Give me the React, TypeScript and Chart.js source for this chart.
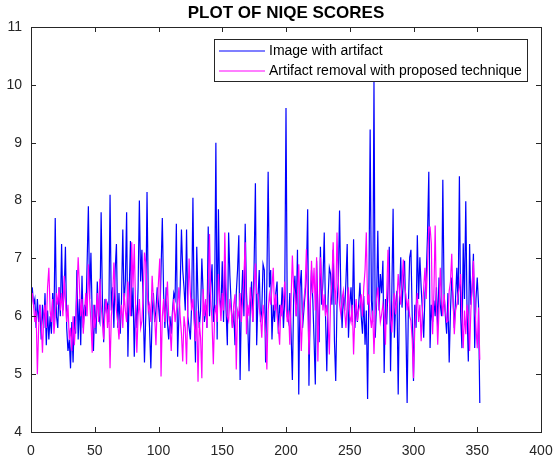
import React, { useEffect, useRef } from "react";
import { Chart, registerables } from "chart.js";

Chart.register(...registerables);

const TITLE = "PLOT OF NIQE SCORES";
const SERIES_LABELS = ["Image with artifact", "Artifact removal with proposed technique"];
const X_TICKS = [0, 50, 100, 150, 200, 250, 300, 350, 400];
const Y_TICKS = [4, 5, 6, 7, 8, 9, 10, 11];

const withArtifact = [
  6.5, 6.2, 6.3, 5.8, 6.3, 5.9, 6.2, 5.6, 6.2, 5.8,
  6.4, 5.5, 6.1, 5.6, 6.0, 5.7, 6.4, 5.9, 7.7, 6.0,
  5.8, 6.5, 6.0, 7.25, 6.1, 6.4, 7.2, 5.8, 5.4, 5.6,
  5.1, 5.9, 5.2, 6.0, 5.7, 6.8, 5.6, 6.3, 5.5, 6.7,
  5.8, 6.2, 6.0, 6.9, 7.9, 6.3, 7.1, 6.0, 5.4, 6.2,
  5.7, 6.6, 6.0, 5.9, 7.8, 6.3, 5.55, 6.3, 6.1, 6.2,
  5.9, 8.1, 6.1, 6.5, 5.8, 6.8, 7.25, 5.8, 6.4, 5.7,
  6.3, 7.5, 6.2, 6.6, 7.8, 5.3, 6.4, 7.3, 6.0, 6.5,
  5.3, 6.2, 5.8, 6.5, 8.0, 6.6, 7.15, 6.2, 5.2, 6.0,
  8.15, 6.3, 5.8, 5.1, 6.0, 6.4, 5.9, 6.1, 6.5, 6.2,
  5.9, 6.8, 7.7, 6.4, 5.8, 6.5, 5.9, 5.6, 6.0, 5.7,
  6.1, 6.4, 6.3, 7.6, 5.3, 6.0, 6.5, 7.5, 6.8, 6.5,
  6.1, 7.5, 6.0, 5.8, 5.6, 6.2, 8.05, 6.1, 5.2, 7.2,
  6.3, 5.8, 6.1, 7.0, 6.4, 5.9, 6.2, 5.8, 7.55, 6.0,
  6.5, 6.9, 5.9, 6.2, 9.0, 5.6, 7.85, 6.3, 6.1, 6.95,
  5.9, 6.9, 6.1, 5.5, 7.45, 6.7, 6.2, 5.8, 6.1, 5.5,
  6.4, 6.8, 7.4, 4.9, 6.2, 6.8, 6.0, 7.6, 6.4, 5.9,
  5.05, 6.2, 6.6, 5.9, 6.9, 8.3, 5.5, 6.3, 6.8, 5.9,
  6.1, 6.9, 6.8, 5.2, 6.6, 8.5, 6.5, 6.8, 5.6, 6.2,
  5.9, 6.4, 6.6, 5.7, 6.2, 6.0, 6.5, 5.8, 6.3, 9.6,
  6.0, 5.9, 6.4, 5.7, 4.9, 6.3, 6.7, 6.0, 7.15, 4.65,
  6.5, 6.8, 5.8, 6.1, 6.4, 6.7, 7.85, 4.8, 6.2, 6.8,
  6.3, 5.6, 4.82, 6.96, 6.1, 5.55, 7.2, 6.2, 6.6, 7.45,
  6.0, 5.05, 6.3, 6.84, 6.73, 6.2, 7.15, 5.57, 4.88, 6.2,
  6.6, 7.83, 6.4, 5.8, 6.38, 6.1, 6.6, 7.25, 5.63, 6.2,
  6.5, 5.9, 7.33, 5.8, 6.2, 5.9, 6.2, 6.58, 6.0, 5.7,
  6.35, 5.51, 6.1, 4.57, 6.4, 9.23, 6.27, 5.9, 10.05, 5.63,
  6.2, 7.48, 6.1, 6.73, 6.4, 6.96, 5.02, 6.3, 5.86, 6.5,
  7.2, 5.05, 6.4, 7.86, 5.63, 6.2, 6.44, 4.65, 6.3, 7.02,
  6.15, 6.6, 6.96, 5.9, 4.5, 6.2, 7.02, 7.15, 6.0, 4.88,
  6.2, 5.8, 7.4, 6.3, 7.02, 6.5, 6.1, 5.63, 6.4, 6.7,
  7.42, 8.5, 5.45, 6.2, 5.9, 6.27, 6.0, 6.5, 5.8, 6.67,
  6.2, 6.0, 8.36, 6.38, 6.0, 5.7, 6.4, 5.2, 6.1, 6.67,
  6.3, 5.8, 6.32, 6.84, 6.2, 8.42, 6.0, 5.45, 7.26, 6.3,
  7.99, 6.1, 5.22, 7.25, 6.2, 6.5, 7.08, 5.45, 6.3, 6.67,
  6.2, 4.5,
];

const artifactRemoved = [
  6.4, 6.2, 5.9, 6.1, 5.0, 5.8, 6.2, 5.9, 5.37, 6.0,
  6.2, 5.8, 6.5, 6.84, 6.1, 5.9, 6.3, 5.7, 6.0, 6.4,
  6.2, 6.5, 6.1, 6.4, 6.0, 6.7, 6.3, 5.9, 6.2, 5.6,
  5.8, 5.4, 6.0, 5.5, 5.9, 6.4, 7.02, 6.5, 6.0, 6.3,
  5.7, 6.1, 6.4, 6.0, 6.9, 6.3, 5.9, 5.37, 6.2, 5.8,
  6.0, 6.4, 5.9, 6.65, 6.2, 5.9, 5.6, 6.1, 6.3, 5.8,
  6.2, 5.1, 6.0, 6.3, 6.93, 6.4, 6.1, 5.9, 5.6, 6.0,
  6.2, 5.8, 6.4, 6.1, 5.9, 6.6, 6.2, 6.0, 7.28, 6.5,
  7.25, 6.2, 5.37, 6.0, 6.3, 5.8, 5.92, 6.4, 7.1, 6.93,
  6.5, 6.1, 6.2, 5.9, 6.7, 6.3, 6.0, 5.5, 6.2, 6.6,
  7.0, 4.96, 6.0, 6.3, 5.9, 6.2, 6.6, 6.0, 5.8, 5.4,
  6.0, 6.3, 5.9, 6.1, 6.2, 6.5, 6.0, 5.7, 5.22, 6.0,
  5.8, 5.17, 6.2, 7.0, 6.4, 6.1, 6.3, 5.9, 5.57, 6.1,
  4.87, 5.9, 5.63, 4.93, 6.47, 6.0, 6.3, 5.8, 6.5, 7.42,
  6.3, 5.9, 5.17, 6.0, 6.2, 5.9, 6.73, 6.3, 5.92, 6.4,
  6.1, 7.45, 6.5, 6.0, 5.92, 6.3, 6.1, 5.8, 6.2, 6.38,
  5.08, 6.1, 6.0, 6.4, 5.9, 6.3, 6.7, 7.28, 5.69, 6.2,
  6.0, 6.5, 6.2, 5.9, 6.5, 6.91, 6.4, 6.38, 6.15, 6.0,
  5.63, 6.2, 6.0, 5.7, 5.08, 6.1, 6.38, 6.2, 6.5, 6.84,
  6.1, 6.38, 6.0, 5.8, 5.51, 6.2, 6.03, 6.3, 6.6, 6.2,
  5.9, 6.1, 5.51, 6.3, 7.05, 6.5, 6.38, 6.0, 6.4, 6.9,
  6.1, 5.4, 6.0, 6.27, 6.5, 7.16, 6.2, 5.34, 6.1, 6.96,
  6.4, 6.84, 6.1, 7.02, 5.22, 6.2, 7.02, 6.6, 6.1, 6.38,
  6.0, 6.2, 5.9, 5.34, 6.3, 6.6, 7.28, 6.5, 6.2, 7.45,
  6.6, 6.2, 6.03, 6.3, 6.44, 6.1, 5.8, 6.2, 6.5, 6.0,
  5.9, 6.2, 5.34, 6.0, 6.3, 5.92, 6.1, 6.2, 6.38, 6.0,
  6.5, 6.8, 7.45, 6.2, 6.38, 6.0, 5.8, 6.1, 5.35, 6.0,
  6.3, 6.5, 6.2, 5.9, 6.03, 6.2, 6.0, 5.51, 6.4, 7.15,
  6.3, 6.0, 5.72, 6.2, 6.4, 6.03, 6.3, 6.73, 6.4, 6.2,
  6.6, 6.98, 6.5, 6.38, 6.1, 6.3, 6.0, 5.92, 5.6, 4.93,
  5.8, 6.15, 6.4, 5.9, 6.2, 5.57, 6.1, 6.5, 6.84, 6.3,
  6.9, 7.54, 7.54, 7.25, 5.69, 6.4, 7.57, 6.2, 5.51, 6.1,
  6.84, 6.3, 6.0, 6.38, 6.1, 5.9, 5.92, 6.44, 6.6, 7.08,
  6.3, 5.69, 6.1, 6.2, 6.38, 6.5, 6.73, 6.0, 5.45, 6.1,
  5.69, 6.2, 6.0, 5.4, 6.1, 6.5, 6.96, 6.3, 5.8, 5.45,
  6.15, 5.25,
];

const SERIES_COLORS = ["#0000ff", "#ff00ff"];
const AXIS_COLOR = "#262626";
const FONT = "'Liberation Sans', Arial, Helvetica, sans-serif";

const matlabAxesPlugin = {
  id: "matlabAxes",
  afterDatasetsDraw(chart: any) {
    const { ctx, chartArea, scales } = chart;
    const { left, right, top, bottom } = chartArea;
    const tick = 5;
    ctx.save();
    ctx.strokeStyle = AXIS_COLOR;
    ctx.lineWidth = 1;
    ctx.beginPath();
    for (const v of X_TICKS) {
      const px = Math.round(scales.x.getPixelForValue(v)) + 0.5;
      ctx.moveTo(px, bottom);
      ctx.lineTo(px, bottom - tick);
      ctx.moveTo(px, top);
      ctx.lineTo(px, top + tick);
    }
    for (const v of Y_TICKS) {
      const py = Math.round(scales.y.getPixelForValue(v)) + 0.5;
      ctx.moveTo(left, py);
      ctx.lineTo(left + tick, py);
      ctx.moveTo(right, py);
      ctx.lineTo(right - tick, py);
    }
    ctx.stroke();
    ctx.strokeRect(Math.round(left) + 0.5, Math.round(top) + 0.5, Math.round(right - left), Math.round(bottom - top));

    // legend box (MATLAB style, inside the axes, top right)
    const bx = 214.5, by = 39.5, bw = 313, bh = 42;
    ctx.fillStyle = "#ffffff";
    ctx.fillRect(bx, by, bw, bh);
    ctx.strokeStyle = AXIS_COLOR;
    ctx.strokeRect(bx, by, bw, bh);
    ctx.font = `14px ${FONT}`;
    ctx.textBaseline = "middle";
    ctx.textAlign = "left";
    chart.data.datasets.forEach((ds: any, i: number) => {
      const y = 51 + i * 20;
      ctx.strokeStyle = ds.borderColor;
      ctx.lineWidth = 1.2;
      ctx.beginPath();
      ctx.moveTo(219, y);
      ctx.lineTo(265, y);
      ctx.stroke();
      ctx.fillStyle = "#000000";
      ctx.fillText(ds.label, 269, y);
    });
    ctx.restore();
  },
};

export default function App() {
  const canvasRef = useRef<HTMLCanvasElement | null>(null);

  useEffect(() => {
    document.body.style.margin = "0";
    const canvas = canvasRef.current;
    if (!canvas) return;
    const toPoints = (arr: number[]) => arr.map((v, i) => ({ x: i + 1, y: v }));
    const chart = new Chart(canvas, {
      type: "line",
      data: {
        datasets: [
          {
            label: SERIES_LABELS[0],
            data: toPoints(withArtifact),
            borderColor: SERIES_COLORS[0],
            backgroundColor: SERIES_COLORS[0],
            borderWidth: 1.2,
            pointRadius: 0,
            tension: 0,
            order: 1,
          },
          {
            label: SERIES_LABELS[1],
            data: toPoints(artifactRemoved),
            borderColor: SERIES_COLORS[1],
            backgroundColor: SERIES_COLORS[1],
            borderWidth: 1.2,
            pointRadius: 0,
            tension: 0,
            order: 0,
          },
        ],
      },
      options: {
        animation: false,
        responsive: false,
        devicePixelRatio: 1,
        layout: { padding: { left: 0, right: 14, top: 0, bottom: 0 } },
        plugins: {
          legend: { display: false },
          tooltip: { enabled: false },
          title: {
            display: true,
            text: TITLE,
            fullSize: false,
            color: "#000000",
            font: { family: FONT, size: 17, weight: "bold" },
            padding: { top: 3, bottom: 3.6 },
          },
        },
        scales: {
          x: {
            type: "linear",
            min: 0,
            max: 400,
            afterBuildTicks: (s: any) => {
              s.ticks = X_TICKS.map((v) => ({ value: v }));
            },
            afterFit: (s: any) => {
              s.height = 31;
              s.paddingLeft = 0;
              s.paddingRight = 0;
            },
            grid: { display: false, drawTicks: false },
            border: { display: false },
            ticks: {
              color: AXIS_COLOR,
              font: { family: FONT, size: 14 },
              padding: 11,
              maxRotation: 0,
            },
          },
          y: {
            type: "linear",
            min: 4,
            max: 11,
            afterBuildTicks: (s: any) => {
              s.ticks = Y_TICKS.map((v) => ({ value: v }));
            },
            afterFit: (s: any) => {
              s.width = 31;
              s.paddingTop = 0;
              s.paddingBottom = 0;
            },
            grid: { display: false, drawTicks: false },
            border: { display: false },
            ticks: {
              color: AXIS_COLOR,
              font: { family: FONT, size: 14 },
              padding: 9,
            },
          },
        },
      },
      plugins: [matlabAxesPlugin],
    });
    return () => chart.destroy();
  }, []);

  return (
    <div style={{ width: 555, height: 463, background: "#fff" }}>
      <canvas ref={canvasRef} width={555} height={463} style={{ display: "block" }} />
    </div>
  );
}
